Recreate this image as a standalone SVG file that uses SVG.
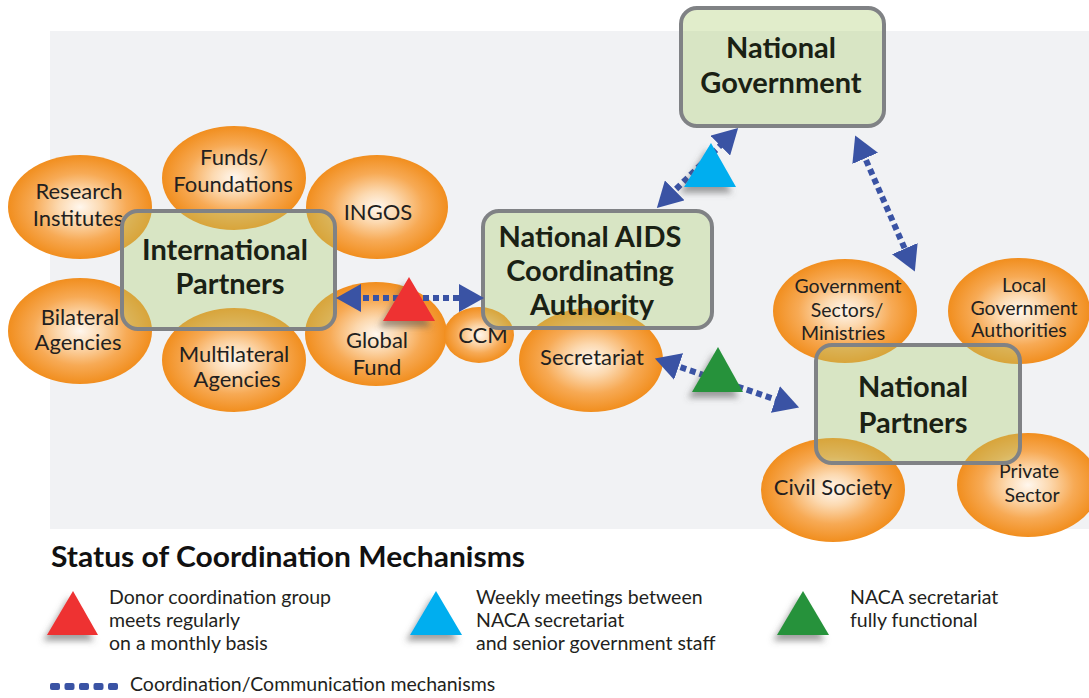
<svg xmlns="http://www.w3.org/2000/svg" width="1089" height="698" viewBox="0 0 1089 698">
<style>
.bg{fill:#f1f2f4}
.ell{fill:url(#og)}
.box{fill:#accd6f;fill-opacity:0.36;stroke:#808285;stroke-width:4}
.et{font-family:Lato,"Liberation Sans",sans-serif;font-size:22px;fill:#231f20;text-anchor:middle}
.es{font-family:Lato,"Liberation Sans",sans-serif;font-size:19.5px;fill:#231f20;text-anchor:middle}
.bt{font-family:Lato,"Liberation Sans",sans-serif;font-size:29px;font-weight:bold;fill:#1a2114;text-anchor:middle}
.con{fill:none;stroke:#3a53a4;stroke-width:6;stroke-dasharray:6 4}
.lt{font-family:Lato,"Liberation Sans",sans-serif;font-size:19.5px;fill:#231f20}
.title{font-family:Lato,"Liberation Sans",sans-serif;font-size:28px;font-weight:bold;fill:#111}
</style>
<defs>
<radialGradient id="og" cx="50%" cy="50%" r="50%">
<stop offset="0" stop-color="#fff7ee"/>
<stop offset="0.3" stop-color="#fcd9b0"/>
<stop offset="0.65" stop-color="#f7aa55"/>
<stop offset="1" stop-color="#f18e1e"/>
</radialGradient>
<marker id="ah" viewBox="0 0 25 28" markerWidth="25" markerHeight="28" refX="8" refY="14" orient="auto-start-reverse" markerUnits="userSpaceOnUse">
<path d="M0,0 L25,14 L0,28 z" fill="#3a53a4"/>
</marker>
<filter id="sh" x="-40%" y="-40%" width="180%" height="180%">
<feDropShadow dx="-4" dy="6" stdDeviation="3" flood-color="#555" flood-opacity="0.55"/>
</filter>
</defs>
<rect class="bg" x="50" y="31" width="1039" height="498"/>

<g id="research-institutes"><ellipse class="ell" cx="80" cy="207" rx="72" ry="52"/><text class="et" x="79" y="199">Research</text><text class="et" x="78" y="226">Institutes</text></g>
<g id="funds-foundations"><ellipse class="ell" cx="234" cy="178" rx="72" ry="52"/><text class="et" x="234" y="165">Funds/</text><text class="et" x="233" y="192">Foundations</text></g>
<g id="ingos"><ellipse class="ell" cx="377" cy="207" rx="71" ry="52"/><text class="et" x="378" y="220">INGOS</text></g>
<g id="bilateral-agencies"><ellipse class="ell" cx="80" cy="331" rx="72" ry="53"/><text class="et" x="80" y="325">Bilateral</text><text class="et" x="78" y="350">Agencies</text></g>
<g id="multilateral-agencies"><ellipse class="ell" cx="234" cy="360" rx="72" ry="52"/><text class="et" x="234" y="362">Multilateral</text><text class="et" x="237" y="387">Agencies</text></g>
<g id="global-fund"><ellipse class="ell" cx="376" cy="334" rx="71" ry="52"/><text class="et" x="377" y="348">Global</text><text class="et" x="377" y="375">Fund</text></g>
<g id="ccm"><ellipse class="ell" cx="479" cy="335" rx="35" ry="28"/><text class="et" x="483" y="343">CCM</text></g>
<g id="secretariat"><ellipse class="ell" cx="591" cy="360" rx="72" ry="52"/><text class="et" x="592" y="365">Secretariat</text></g>
<g id="government-sectors"><ellipse class="ell" cx="845" cy="311" rx="72" ry="52"/><text class="es" x="848" y="293">Government</text><text class="es" x="847" y="317">Sectors/</text><text class="es" x="843" y="340">Ministries</text></g>
<g id="local-government"><ellipse class="ell" cx="1019" cy="311" rx="71" ry="53"/><text class="es" x="1024" y="292">Local</text><text class="es" x="1024" y="315">Government</text><text class="es" x="1019" y="337">Authorities</text></g>
<g id="civil-society"><ellipse class="ell" cx="833" cy="490" rx="72" ry="52"/><text class="et" x="833" y="495">Civil Society</text></g>
<g id="private-sector"><ellipse class="ell" cx="1028" cy="485" rx="71" ry="52"/><text class="es" x="1029" y="478">Private</text><text class="es" x="1032" y="502">Sector</text></g>

<g id="international-partners"><rect class="box" x="122" y="211" width="213" height="118" rx="16"/><text class="bt" x="225" y="260">International</text><text class="bt" x="230" y="294">Partners</text></g>
<g id="naca"><rect class="box" x="483" y="211" width="229" height="117" rx="16"/><text class="bt" x="590" y="247">National AIDS</text><text class="bt" x="590" y="281">Coordinating</text><text class="bt" x="592" y="315">Authority</text></g>
<g id="national-government"><rect class="box" x="681" y="8" width="203" height="118" rx="16"/><text class="bt" x="781" y="58">National</text><text class="bt" x="781" y="93">Government</text></g>
<g id="national-partners"><rect class="box" x="816" y="345" width="204" height="118" rx="16"/><text class="bt" x="913" y="397">National</text><text class="bt" x="913" y="433">Partners</text></g>

<g id="connectors">
<line class="con" x1="353" y1="298" x2="467" y2="298" marker-start="url(#ah)" marker-end="url(#ah)"/>
<line class="con" x1="669" y1="196" x2="726" y2="140" marker-start="url(#ah)" marker-end="url(#ah)"/>
<line class="con" x1="862" y1="151" x2="908" y2="256" marker-start="url(#ah)" marker-end="url(#ah)"/>
<line class="con" x1="671" y1="364" x2="783" y2="402" marker-start="url(#ah)" marker-end="url(#ah)"/>
</g>

<g id="status-triangles" filter="url(#sh)">
<polygon points="409,277 435,321 383,321" fill="#ee3131"/>
<polygon points="711,143 736,187 684,187" fill="#00aeef"/>
<polygon points="718,347 743,392 692,392" fill="#27923b"/>
</g>

<g id="legend">
<text class="title" x="51" y="567" textLength="474" lengthAdjust="spacingAndGlyphs">Status of Coordination Mechanisms</text>
<g filter="url(#sh)">
<polygon points="73,591 98,635 47,635" fill="#ee3131"/>
<polygon points="436,591 462,635 410,635" fill="#00aeef"/>
<polygon points="803,591 829,635 777,635" fill="#27923b"/>
</g>
<text class="lt" x="109" y="604">Donor coordination group</text>
<text class="lt" x="109" y="627">meets regularly</text>
<text class="lt" x="109" y="650">on a monthly basis</text>
<text class="lt" x="476" y="604">Weekly meetings between</text>
<text class="lt" x="476" y="627">NACA secretariat</text>
<text class="lt" x="476" y="650">and senior government staff</text>
<text class="lt" x="850" y="604">NACA secretariat</text>
<text class="lt" x="850" y="627">fully functional</text>
<g fill="#3a53a4">
<rect x="50" y="683" width="10" height="7" rx="2"/>
<rect x="64.5" y="683" width="10" height="7" rx="2"/>
<rect x="79" y="683" width="10" height="7" rx="2"/>
<rect x="93.5" y="683" width="10" height="7" rx="2"/>
<rect x="108" y="683" width="10" height="7" rx="2"/>
</g>
<text class="lt" x="130" y="691">Coordination/Communication mechanisms</text>
</g>
</svg>
